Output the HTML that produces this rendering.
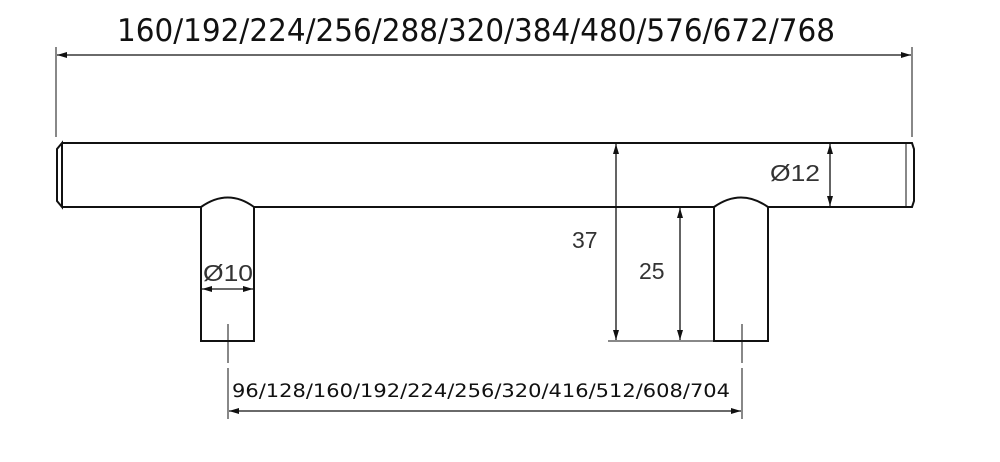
<!DOCTYPE html>
<html><head><style>body{margin:0;background:#fff}svg{display:block}</style></head>
<body>
<svg width="1000" height="462" viewBox="0 0 1000 462" xmlns="http://www.w3.org/2000/svg" font-family="Liberation Sans, sans-serif">
<defs>
<marker id="a" viewBox="0 0 10 6" refX="10" refY="3" markerWidth="10" markerHeight="6" orient="auto-start-reverse" markerUnits="userSpaceOnUse"><path d="M0,0 L10,3 L0,6 Z" fill="#111"/></marker>
</defs>
<g stroke="#111" fill="none">
<path d="M62,143 L912,143 M62,207 L201,207 M254,207 L714,207 M768,207 L912,207" stroke-width="2"/>
<path d="M62,143 L57,149 L57,201 L62,207 Z" stroke-width="2"/>
<path d="M62,143 L62,207" stroke-width="1"/>
<path d="M906,143 L906,207" stroke-width="1"/>
<path d="M906,143 L912,143 L914,149 L914,201 L912,207 L906,207" stroke-width="2"/>
<path d="M201,207 Q228,188 254,207 M201,207 L201,341 L254,341 L254,207" stroke-width="2"/>
<path d="M714,207 Q741,188 768,207 M714,207 L714,341 L768,341 L768,207" stroke-width="2"/>
<path d="M228,324 L228,363 M228,368 L228,419 M742,324 L742,363 M742,368 L742,419" stroke-width="1"/>
<path d="M56,47 L56,137 M912,47 L912,137" stroke-width="1"/>
<line x1="57" y1="55" x2="911" y2="55" stroke-width="1.3" marker-start="url(#a)" marker-end="url(#a)"/>
<line x1="229" y1="411" x2="741" y2="411" stroke-width="1.3" marker-start="url(#a)" marker-end="url(#a)"/>
<path d="M608,341 L714,341" stroke-width="1"/>
<line x1="616" y1="144" x2="616" y2="340" stroke-width="1.3" marker-start="url(#a)" marker-end="url(#a)"/>
<line x1="680" y1="208" x2="680" y2="340" stroke-width="1.3" marker-start="url(#a)" marker-end="url(#a)"/>
<line x1="830" y1="144" x2="830" y2="206" stroke-width="1.3" marker-start="url(#a)" marker-end="url(#a)"/>
<line x1="202" y1="289" x2="253" y2="289" stroke-width="1.3" marker-start="url(#a)" marker-end="url(#a)"/>
</g>
<g fill="#111">
<text x="117" y="41" font-size="31" font-family="DejaVu Sans Condensed, DejaVu Sans, sans-serif" textLength="718" lengthAdjust="spacingAndGlyphs">160/192/224/256/288/320/384/480/576/672/768</text>
<text x="232" y="397" font-size="19" font-family="DejaVu Sans, sans-serif" textLength="498" lengthAdjust="spacingAndGlyphs">96/128/160/192/224/256/320/416/512/608/704</text>
<text x="572" y="248" font-size="23" fill="#333">37</text>
<text x="639" y="279" font-size="23" fill="#333">25</text>
<text x="770" y="181" font-size="23" fill="#333" textLength="50" lengthAdjust="spacingAndGlyphs">Ø12</text>
<text x="203" y="281" font-size="23" fill="#333" textLength="50" lengthAdjust="spacingAndGlyphs">Ø10</text>
</g>
</svg>
</body></html>
